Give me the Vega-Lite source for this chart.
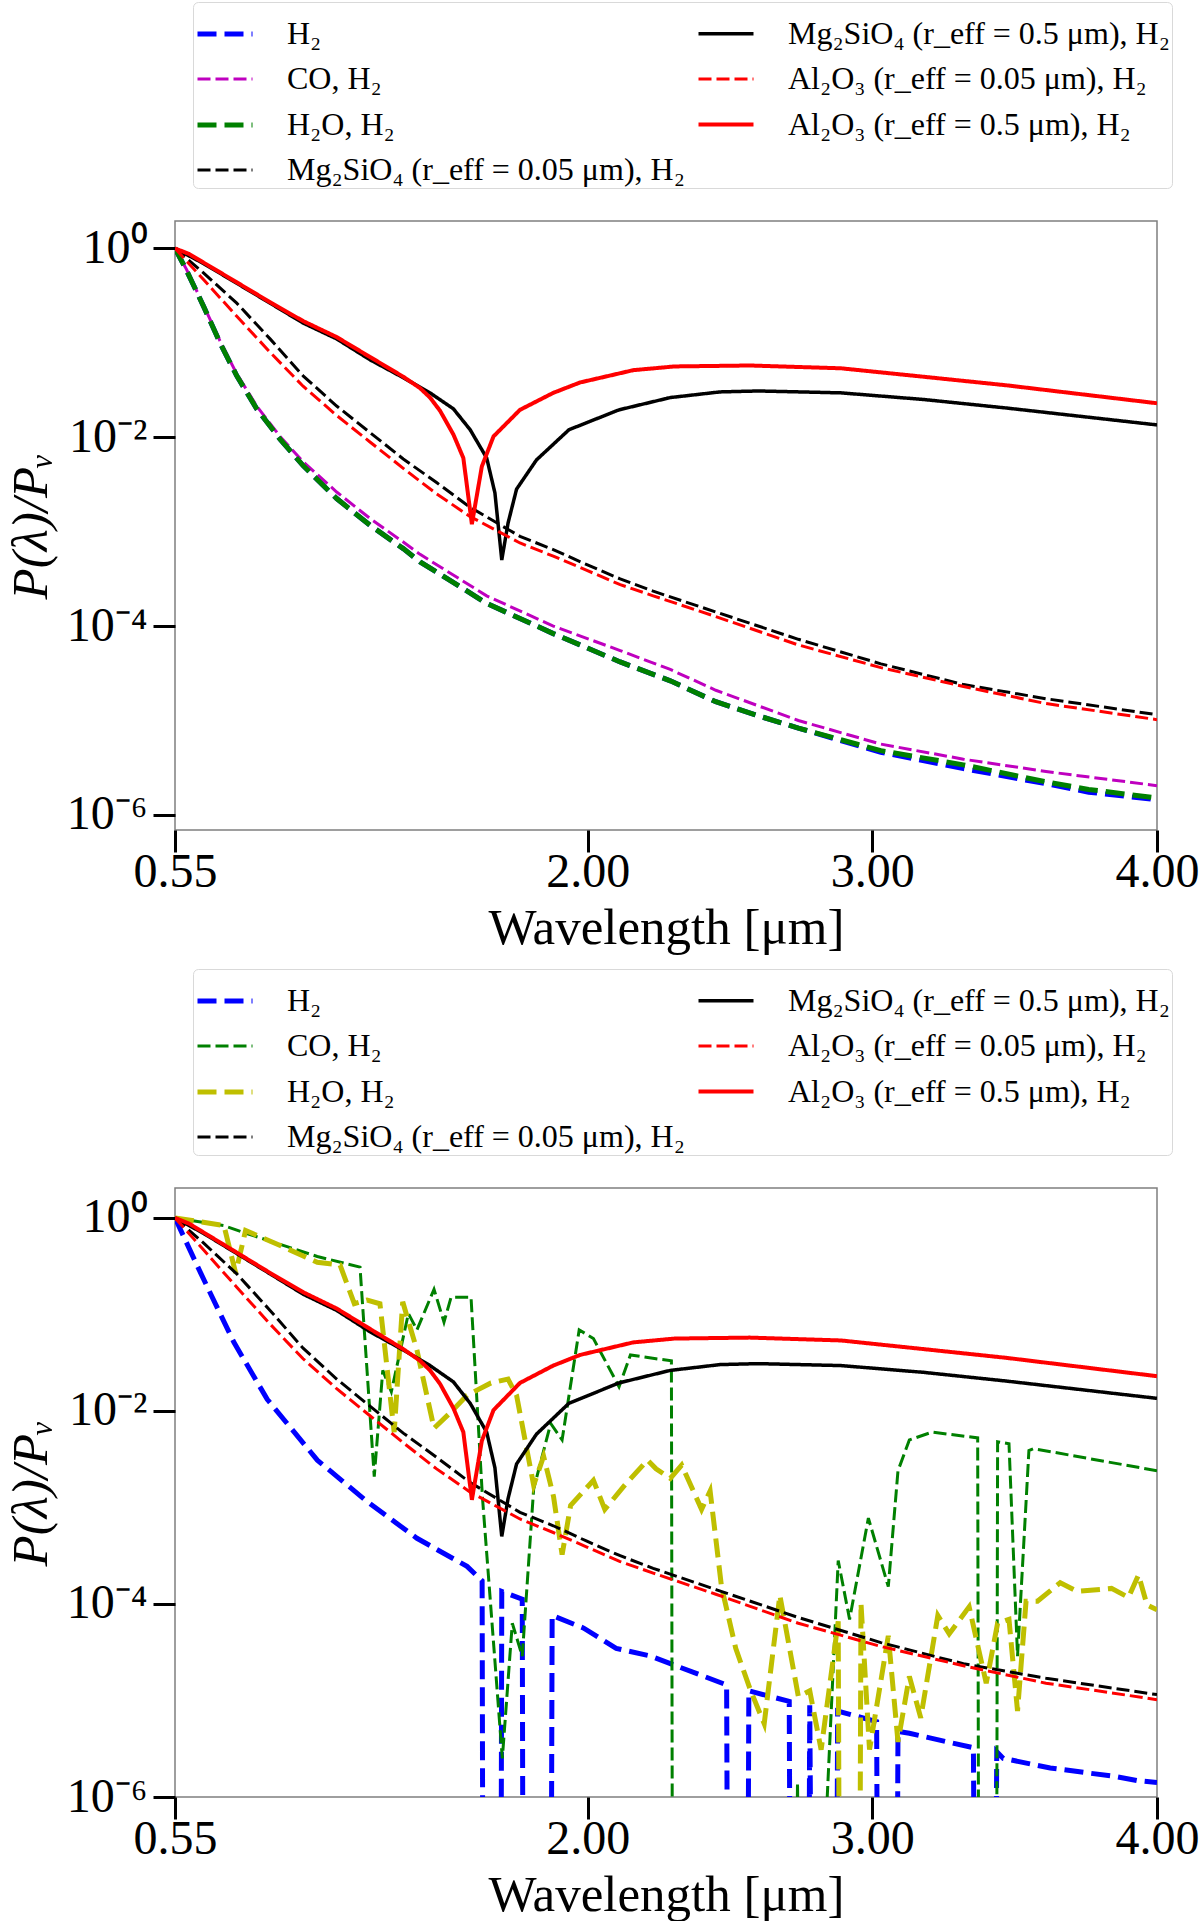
{
  "$schema": "https://vega.github.io/schema/vega-lite/v6.json",
  "background": "white",
  "padding": {"left": 4, "top": 0, "right": 0, "bottom": 0},
  "config": {
    "font": "Liberation Serif",
    "view": {"stroke": "#7f7f7f", "strokeWidth": 1.5},
    "concat": {"spacing": 13},
    "axis": {
      "labelFont": "Liberation Serif",
      "titleFont": "Liberation Serif",
      "labelFontSize": 48,
      "titleFontSize": 51,
      "titleFontWeight": "normal",
      "labelColor": "black",
      "titleColor": "black",
      "tickColor": "black",
      "tickSize": 22,
      "tickWidth": 3,
      "domain": false,
      "grid": false,
      "labelFlush": false,
      "labelOverlap": false
    },
    "legend": {
      "orient": "none",
      "legendX": 18,
      "legendY": -219,
      "columns": 2,
      "symbolType": "stroke",
      "symbolSize": 3025,
      "labelFont": "Liberation Serif",
      "labelFontSize": 32,
      "labelColor": "black",
      "labelOffset": 32,
      "labelLimit": 0,
      "rowPadding": -7,
      "columnPadding": 5,
      "padding": 2,
      "fillColor": "white",
      "strokeColor": "#d9d9d9",
      "cornerRadius": 5
    }
  },
  "datasets": {
    "top": [
      {"s": "H2", "x": 0.55, "p": 1},
      {"s": "H2", "x": 0.59, "p": 0.589},
      {"s": "H2", "x": 0.65, "p": 0.245},
      {"s": "H2", "x": 0.708, "p": 0.1},
      {"s": "H2", "x": 0.767, "p": 0.0447},
      {"s": "H2", "x": 0.837, "p": 0.02},
      {"s": "H2", "x": 0.919, "p": 0.00955},
      {"s": "H2", "x": 1.0, "p": 0.00501},
      {"s": "H2", "x": 1.118, "p": 0.00224},
      {"s": "H2", "x": 1.235, "p": 0.00117},
      {"s": "H2", "x": 1.352, "p": 0.000661},
      {"s": "H2", "x": 1.411, "p": 0.000479},
      {"s": "H2", "x": 1.645, "p": 0.000174},
      {"s": "H2", "x": 1.879, "p": 0.0000832},
      {"s": "H2", "x": 2.114, "p": 0.0000417},
      {"s": "H2", "x": 2.29, "p": 0.0000263},
      {"s": "H2", "x": 2.45, "p": 0.0000158},
      {"s": "H2", "x": 2.6, "p": 0.0000112},
      {"s": "H2", "x": 2.74, "p": 0.0000083},
      {"s": "H2", "x": 3.03, "p": 0.0000046},
      {"s": "H2", "x": 3.32, "p": 0.00000309},
      {"s": "H2", "x": 3.61, "p": 0.00000214},
      {"s": "H2", "x": 3.76, "p": 0.00000174},
      {"s": "H2", "x": 4.0, "p": 0.00000145},
      {"s": "CO", "x": 0.55, "p": 1},
      {"s": "CO", "x": 0.59, "p": 0.603},
      {"s": "CO", "x": 0.65, "p": 0.251},
      {"s": "CO", "x": 0.708, "p": 0.105},
      {"s": "CO", "x": 0.767, "p": 0.0468},
      {"s": "CO", "x": 0.837, "p": 0.0214},
      {"s": "CO", "x": 0.919, "p": 0.0102},
      {"s": "CO", "x": 1.0, "p": 0.0055},
      {"s": "CO", "x": 1.118, "p": 0.00263},
      {"s": "CO", "x": 1.235, "p": 0.00138},
      {"s": "CO", "x": 1.352, "p": 0.000776},
      {"s": "CO", "x": 1.411, "p": 0.000575},
      {"s": "CO", "x": 1.645, "p": 0.000209},
      {"s": "CO", "x": 1.879, "p": 0.0001},
      {"s": "CO", "x": 2.114, "p": 0.000055},
      {"s": "CO", "x": 2.29, "p": 0.0000347},
      {"s": "CO", "x": 2.45, "p": 0.0000209},
      {"s": "CO", "x": 2.74, "p": 0.00001},
      {"s": "CO", "x": 3.03, "p": 0.00000562},
      {"s": "CO", "x": 3.32, "p": 0.00000389},
      {"s": "CO", "x": 3.61, "p": 0.00000288},
      {"s": "CO", "x": 4.0, "p": 0.00000204},
      {"s": "H2O", "x": 0.55, "p": 1},
      {"s": "H2O", "x": 0.59, "p": 0.589},
      {"s": "H2O", "x": 0.65, "p": 0.245},
      {"s": "H2O", "x": 0.708, "p": 0.1},
      {"s": "H2O", "x": 0.767, "p": 0.0447},
      {"s": "H2O", "x": 0.837, "p": 0.02},
      {"s": "H2O", "x": 0.919, "p": 0.00955},
      {"s": "H2O", "x": 1.0, "p": 0.00501},
      {"s": "H2O", "x": 1.118, "p": 0.00224},
      {"s": "H2O", "x": 1.235, "p": 0.00117},
      {"s": "H2O", "x": 1.352, "p": 0.000661},
      {"s": "H2O", "x": 1.411, "p": 0.000479},
      {"s": "H2O", "x": 1.645, "p": 0.000174},
      {"s": "H2O", "x": 1.879, "p": 0.0000832},
      {"s": "H2O", "x": 2.114, "p": 0.0000417},
      {"s": "H2O", "x": 2.29, "p": 0.0000263},
      {"s": "H2O", "x": 2.45, "p": 0.0000158},
      {"s": "H2O", "x": 2.6, "p": 0.0000112},
      {"s": "H2O", "x": 2.74, "p": 0.0000083},
      {"s": "H2O", "x": 3.03, "p": 0.00000479},
      {"s": "H2O", "x": 3.32, "p": 0.00000339},
      {"s": "H2O", "x": 3.61, "p": 0.00000224},
      {"s": "H2O", "x": 3.76, "p": 0.00000186},
      {"s": "H2O", "x": 4.0, "p": 0.00000151},
      {"s": "Mg005", "x": 0.55, "p": 1},
      {"s": "Mg005", "x": 0.65, "p": 0.55},
      {"s": "Mg005", "x": 0.767, "p": 0.263},
      {"s": "Mg005", "x": 0.884, "p": 0.11},
      {"s": "Mg005", "x": 1.0, "p": 0.0447},
      {"s": "Mg005", "x": 1.118, "p": 0.0214},
      {"s": "Mg005", "x": 1.235, "p": 0.0112},
      {"s": "Mg005", "x": 1.352, "p": 0.00589},
      {"s": "Mg005", "x": 1.469, "p": 0.00331},
      {"s": "Mg005", "x": 1.586, "p": 0.00182},
      {"s": "Mg005", "x": 1.762, "p": 0.000891},
      {"s": "Mg005", "x": 1.879, "p": 0.000646},
      {"s": "Mg005", "x": 1.997, "p": 0.000447},
      {"s": "Mg005", "x": 2.114, "p": 0.000316},
      {"s": "Mg005", "x": 2.23, "p": 0.000234},
      {"s": "Mg005", "x": 2.45, "p": 0.000141},
      {"s": "Mg005", "x": 2.74, "p": 0.0000724},
      {"s": "Mg005", "x": 3.03, "p": 0.0000398},
      {"s": "Mg005", "x": 3.32, "p": 0.000024},
      {"s": "Mg005", "x": 3.61, "p": 0.000017},
      {"s": "Mg005", "x": 4.0, "p": 0.0000115},
      {"s": "Mg05", "x": 0.55, "p": 1},
      {"s": "Mg05", "x": 0.65, "p": 0.692},
      {"s": "Mg05", "x": 0.767, "p": 0.427},
      {"s": "Mg05", "x": 0.884, "p": 0.263},
      {"s": "Mg05", "x": 1.0, "p": 0.162},
      {"s": "Mg05", "x": 1.118, "p": 0.11},
      {"s": "Mg05", "x": 1.235, "p": 0.0661},
      {"s": "Mg05", "x": 1.352, "p": 0.0427},
      {"s": "Mg05", "x": 1.446, "p": 0.0295},
      {"s": "Mg05", "x": 1.528, "p": 0.02},
      {"s": "Mg05", "x": 1.587, "p": 0.012},
      {"s": "Mg05", "x": 1.645, "p": 0.00603},
      {"s": "Mg05", "x": 1.674, "p": 0.00257},
      {"s": "Mg05", "x": 1.698, "p": 0.000501},
      {"s": "Mg05", "x": 1.72, "p": 0.00123},
      {"s": "Mg05", "x": 1.75, "p": 0.00282},
      {"s": "Mg05", "x": 1.82, "p": 0.00575},
      {"s": "Mg05", "x": 1.934, "p": 0.012},
      {"s": "Mg05", "x": 2.11, "p": 0.0195},
      {"s": "Mg05", "x": 2.29, "p": 0.0263},
      {"s": "Mg05", "x": 2.465, "p": 0.0302},
      {"s": "Mg05", "x": 2.6, "p": 0.0309},
      {"s": "Mg05", "x": 2.89, "p": 0.0295},
      {"s": "Mg05", "x": 3.18, "p": 0.0251},
      {"s": "Mg05", "x": 3.47, "p": 0.0204},
      {"s": "Mg05", "x": 4.0, "p": 0.0135},
      {"s": "Al005", "x": 0.55, "p": 1},
      {"s": "Al005", "x": 0.65, "p": 0.468},
      {"s": "Al005", "x": 0.767, "p": 0.191},
      {"s": "Al005", "x": 0.884, "p": 0.0794},
      {"s": "Al005", "x": 1.0, "p": 0.0347},
      {"s": "Al005", "x": 1.118, "p": 0.017},
      {"s": "Al005", "x": 1.235, "p": 0.00891},
      {"s": "Al005", "x": 1.352, "p": 0.00468},
      {"s": "Al005", "x": 1.469, "p": 0.00251},
      {"s": "Al005", "x": 1.586, "p": 0.00145},
      {"s": "Al005", "x": 1.762, "p": 0.000759},
      {"s": "Al005", "x": 1.879, "p": 0.00055},
      {"s": "Al005", "x": 1.997, "p": 0.000389},
      {"s": "Al005", "x": 2.114, "p": 0.000275},
      {"s": "Al005", "x": 2.23, "p": 0.000209},
      {"s": "Al005", "x": 2.45, "p": 0.000126},
      {"s": "Al005", "x": 2.74, "p": 0.0000631},
      {"s": "Al005", "x": 3.03, "p": 0.0000363},
      {"s": "Al005", "x": 3.32, "p": 0.0000229},
      {"s": "Al005", "x": 3.61, "p": 0.0000151},
      {"s": "Al005", "x": 4.0, "p": 0.0000102},
      {"s": "Al05", "x": 0.55, "p": 1},
      {"s": "Al05", "x": 0.6, "p": 0.871},
      {"s": "Al05", "x": 0.65, "p": 0.708},
      {"s": "Al05", "x": 0.767, "p": 0.437},
      {"s": "Al05", "x": 0.884, "p": 0.269},
      {"s": "Al05", "x": 1.0, "p": 0.17},
      {"s": "Al05", "x": 1.118, "p": 0.115},
      {"s": "Al05", "x": 1.235, "p": 0.0708},
      {"s": "Al05", "x": 1.352, "p": 0.0437},
      {"s": "Al05", "x": 1.411, "p": 0.0331},
      {"s": "Al05", "x": 1.446, "p": 0.0263},
      {"s": "Al05", "x": 1.481, "p": 0.0191},
      {"s": "Al05", "x": 1.528, "p": 0.0107},
      {"s": "Al05", "x": 1.563, "p": 0.00603},
      {"s": "Al05", "x": 1.593, "p": 0.0012},
      {"s": "Al05", "x": 1.628, "p": 0.0049},
      {"s": "Al05", "x": 1.669, "p": 0.0102},
      {"s": "Al05", "x": 1.762, "p": 0.0195},
      {"s": "Al05", "x": 1.879, "p": 0.0295},
      {"s": "Al05", "x": 1.973, "p": 0.038},
      {"s": "Al05", "x": 2.16, "p": 0.0513},
      {"s": "Al05", "x": 2.305, "p": 0.0562},
      {"s": "Al05", "x": 2.57, "p": 0.0575},
      {"s": "Al05", "x": 2.89, "p": 0.0537},
      {"s": "Al05", "x": 3.18, "p": 0.0437},
      {"s": "Al05", "x": 3.47, "p": 0.0355},
      {"s": "Al05", "x": 4.0, "p": 0.0229}
    ],
    "bottom": [
      {"s": "H2", "x": 0.55, "p": 1},
      {"s": "H2", "x": 0.64, "p": 0.269},
      {"s": "H2", "x": 0.757, "p": 0.0513},
      {"s": "H2", "x": 0.874, "p": 0.0132},
      {"s": "H2", "x": 1.05, "p": 0.00309},
      {"s": "H2", "x": 1.225, "p": 0.00115},
      {"s": "H2", "x": 1.4, "p": 0.000479},
      {"s": "H2", "x": 1.576, "p": 0.000245},
      {"s": "H2", "x": 1.629, "p": 0.000174},
      {"s": "H2", "x": 1.632, "p": 0.00000001},
      {"s": "H2", "x": 1.695, "p": 0.00000001},
      {"s": "H2", "x": 1.698, "p": 0.000135},
      {"s": "H2", "x": 1.77, "p": 0.000112},
      {"s": "H2", "x": 1.773, "p": 0.00000001},
      {"s": "H2", "x": 1.871, "p": 0.00000001},
      {"s": "H2", "x": 1.875, "p": 0.0000759},
      {"s": "H2", "x": 1.986, "p": 0.0000562},
      {"s": "H2", "x": 2.1, "p": 0.0000347},
      {"s": "H2", "x": 2.218, "p": 0.000029},
      {"s": "H2", "x": 2.488, "p": 0.0000145},
      {"s": "H2", "x": 2.492, "p": 0.00000001},
      {"s": "H2", "x": 2.562, "p": 0.00000001},
      {"s": "H2", "x": 2.566, "p": 0.0000126},
      {"s": "H2", "x": 2.708, "p": 0.00000977},
      {"s": "H2", "x": 2.712, "p": 0.00000001},
      {"s": "H2", "x": 2.776, "p": 0.00000001},
      {"s": "H2", "x": 2.78, "p": 0.00000891},
      {"s": "H2", "x": 2.787, "p": 0.00000001},
      {"s": "H2", "x": 2.874, "p": 0.00000001},
      {"s": "H2", "x": 2.878, "p": 0.00000776},
      {"s": "H2", "x": 3.015, "p": 0.00000603},
      {"s": "H2", "x": 3.019, "p": 0.00000001},
      {"s": "H2", "x": 3.086, "p": 0.00000001},
      {"s": "H2", "x": 3.09, "p": 0.00000479},
      {"s": "H2", "x": 3.13, "p": 0.00000457},
      {"s": "H2", "x": 3.355, "p": 0.00000324},
      {"s": "H2", "x": 3.36, "p": 0.00000001},
      {"s": "H2", "x": 3.432, "p": 0.00000001},
      {"s": "H2", "x": 3.437, "p": 0.00000295},
      {"s": "H2", "x": 3.46, "p": 0.00000251},
      {"s": "H2", "x": 3.625, "p": 0.000002},
      {"s": "H2", "x": 3.86, "p": 0.00000162},
      {"s": "H2", "x": 3.93, "p": 0.00000148},
      {"s": "H2", "x": 4.0, "p": 0.00000141},
      {"s": "CO", "x": 0.55, "p": 1},
      {"s": "CO", "x": 0.722, "p": 0.832},
      {"s": "CO", "x": 0.79, "p": 0.708},
      {"s": "CO", "x": 1.05, "p": 0.398},
      {"s": "CO", "x": 1.2, "p": 0.309},
      {"s": "CO", "x": 1.25, "p": 0.00209},
      {"s": "CO", "x": 1.28, "p": 0.0263},
      {"s": "CO", "x": 1.31, "p": 0.0158},
      {"s": "CO", "x": 1.37, "p": 0.102},
      {"s": "CO", "x": 1.4, "p": 0.0692},
      {"s": "CO", "x": 1.46, "p": 0.182},
      {"s": "CO", "x": 1.495, "p": 0.0832},
      {"s": "CO", "x": 1.52, "p": 0.151},
      {"s": "CO", "x": 1.59, "p": 0.151},
      {"s": "CO", "x": 1.63, "p": 0.00129},
      {"s": "CO", "x": 1.7, "p": 0.00000251},
      {"s": "CO", "x": 1.735, "p": 0.0000631},
      {"s": "CO", "x": 1.77, "p": 0.0000288},
      {"s": "CO", "x": 1.81, "p": 0.00155},
      {"s": "CO", "x": 1.87, "p": 0.00741},
      {"s": "CO", "x": 1.91, "p": 0.00501},
      {"s": "CO", "x": 1.97, "p": 0.0692},
      {"s": "CO", "x": 2.02, "p": 0.0562},
      {"s": "CO", "x": 2.11, "p": 0.0178},
      {"s": "CO", "x": 2.15, "p": 0.038},
      {"s": "CO", "x": 2.24, "p": 0.0347},
      {"s": "CO", "x": 2.294, "p": 0.0331},
      {"s": "CO", "x": 2.298, "p": 0.00000001},
      {"s": "CO", "x": 2.73, "p": 0.00000001},
      {"s": "CO", "x": 2.737, "p": 0.00000141},
      {"s": "CO", "x": 2.745, "p": 0.00000001},
      {"s": "CO", "x": 2.81, "p": 0.00000001},
      {"s": "CO", "x": 2.88, "p": 0.000282},
      {"s": "CO", "x": 2.92, "p": 0.0000692},
      {"s": "CO", "x": 2.986, "p": 0.000776},
      {"s": "CO", "x": 3.056, "p": 0.000151},
      {"s": "CO", "x": 3.09, "p": 0.0024},
      {"s": "CO", "x": 3.13, "p": 0.00501},
      {"s": "CO", "x": 3.21, "p": 0.00603},
      {"s": "CO", "x": 3.37, "p": 0.00525},
      {"s": "CO", "x": 3.374, "p": 0.00000001},
      {"s": "CO", "x": 3.436, "p": 0.00000001},
      {"s": "CO", "x": 3.44, "p": 0.00479},
      {"s": "CO", "x": 3.48, "p": 0.00457},
      {"s": "CO", "x": 3.51, "p": 0.0000288},
      {"s": "CO", "x": 3.55, "p": 0.00389},
      {"s": "CO", "x": 3.566, "p": 0.00407},
      {"s": "CO", "x": 4.0, "p": 0.0024},
      {"s": "H2O", "x": 0.55, "p": 1},
      {"s": "H2O", "x": 0.722, "p": 0.832},
      {"s": "H2O", "x": 0.763, "p": 0.269},
      {"s": "H2O", "x": 0.798, "p": 0.741},
      {"s": "H2O", "x": 0.93, "p": 0.501},
      {"s": "H2O", "x": 1.05, "p": 0.347},
      {"s": "H2O", "x": 1.13, "p": 0.324},
      {"s": "H2O", "x": 1.18, "p": 0.129},
      {"s": "H2O", "x": 1.225, "p": 0.141},
      {"s": "H2O", "x": 1.27, "p": 0.129},
      {"s": "H2O", "x": 1.32, "p": 0.00603},
      {"s": "H2O", "x": 1.35, "p": 0.135},
      {"s": "H2O", "x": 1.4, "p": 0.0427},
      {"s": "H2O", "x": 1.46, "p": 0.00661},
      {"s": "H2O", "x": 1.52, "p": 0.00977},
      {"s": "H2O", "x": 1.576, "p": 0.0145},
      {"s": "H2O", "x": 1.66, "p": 0.0195},
      {"s": "H2O", "x": 1.72, "p": 0.0214},
      {"s": "H2O", "x": 1.75, "p": 0.0145},
      {"s": "H2O", "x": 1.81, "p": 0.0017},
      {"s": "H2O", "x": 1.845, "p": 0.00339},
      {"s": "H2O", "x": 1.88, "p": 0.00129},
      {"s": "H2O", "x": 1.91, "p": 0.000324},
      {"s": "H2O", "x": 1.94, "p": 0.00105},
      {"s": "H2O", "x": 2.02, "p": 0.00191},
      {"s": "H2O", "x": 2.06, "p": 0.000955},
      {"s": "H2O", "x": 2.13, "p": 0.0017},
      {"s": "H2O", "x": 2.21, "p": 0.00309},
      {"s": "H2O", "x": 2.24, "p": 0.00251},
      {"s": "H2O", "x": 2.29, "p": 0.002},
      {"s": "H2O", "x": 2.33, "p": 0.00275},
      {"s": "H2O", "x": 2.4, "p": 0.000955},
      {"s": "H2O", "x": 2.43, "p": 0.00148},
      {"s": "H2O", "x": 2.47, "p": 0.000151},
      {"s": "H2O", "x": 2.52, "p": 0.0000347},
      {"s": "H2O", "x": 2.57, "p": 0.0000132},
      {"s": "H2O", "x": 2.62, "p": 0.00000575},
      {"s": "H2O", "x": 2.675, "p": 0.000123},
      {"s": "H2O", "x": 2.74, "p": 0.000011},
      {"s": "H2O", "x": 2.78, "p": 0.0000126},
      {"s": "H2O", "x": 2.82, "p": 0.00000309},
      {"s": "H2O", "x": 2.88, "p": 0.0000661},
      {"s": "H2O", "x": 2.885, "p": 0.00000001},
      {"s": "H2O", "x": 2.955, "p": 0.00000001},
      {"s": "H2O", "x": 2.96, "p": 0.000102},
      {"s": "H2O", "x": 2.99, "p": 0.00000309},
      {"s": "H2O", "x": 3.056, "p": 0.0000468},
      {"s": "H2O", "x": 3.09, "p": 0.00000372},
      {"s": "H2O", "x": 3.13, "p": 0.0000178},
      {"s": "H2O", "x": 3.17, "p": 0.00000661},
      {"s": "H2O", "x": 3.23, "p": 0.0000759},
      {"s": "H2O", "x": 3.27, "p": 0.000049},
      {"s": "H2O", "x": 3.34, "p": 0.0000933},
      {"s": "H2O", "x": 3.4, "p": 0.0000151},
      {"s": "H2O", "x": 3.44, "p": 0.0000631},
      {"s": "H2O", "x": 3.48, "p": 0.0000692},
      {"s": "H2O", "x": 3.51, "p": 0.00000776},
      {"s": "H2O", "x": 3.54, "p": 0.000107},
      {"s": "H2O", "x": 3.58, "p": 0.000107},
      {"s": "H2O", "x": 3.66, "p": 0.000166},
      {"s": "H2O", "x": 3.72, "p": 0.000135},
      {"s": "H2O", "x": 3.84, "p": 0.000145},
      {"s": "H2O", "x": 3.9, "p": 0.000117},
      {"s": "H2O", "x": 3.935, "p": 0.0002},
      {"s": "H2O", "x": 3.965, "p": 0.0000977},
      {"s": "H2O", "x": 4.0, "p": 0.0000871},
      {"s": "Mg005", "x": 0.55, "p": 1},
      {"s": "Mg005", "x": 0.65, "p": 0.55},
      {"s": "Mg005", "x": 0.767, "p": 0.263},
      {"s": "Mg005", "x": 0.884, "p": 0.11},
      {"s": "Mg005", "x": 1.0, "p": 0.0447},
      {"s": "Mg005", "x": 1.118, "p": 0.0214},
      {"s": "Mg005", "x": 1.235, "p": 0.0112},
      {"s": "Mg005", "x": 1.352, "p": 0.00589},
      {"s": "Mg005", "x": 1.469, "p": 0.00331},
      {"s": "Mg005", "x": 1.586, "p": 0.00182},
      {"s": "Mg005", "x": 1.762, "p": 0.000891},
      {"s": "Mg005", "x": 1.879, "p": 0.000646},
      {"s": "Mg005", "x": 1.997, "p": 0.000447},
      {"s": "Mg005", "x": 2.114, "p": 0.000316},
      {"s": "Mg005", "x": 2.23, "p": 0.000234},
      {"s": "Mg005", "x": 2.45, "p": 0.000141},
      {"s": "Mg005", "x": 2.74, "p": 0.0000724},
      {"s": "Mg005", "x": 3.03, "p": 0.0000398},
      {"s": "Mg005", "x": 3.32, "p": 0.000024},
      {"s": "Mg005", "x": 3.61, "p": 0.000017},
      {"s": "Mg005", "x": 4.0, "p": 0.0000115},
      {"s": "Mg05", "x": 0.55, "p": 1},
      {"s": "Mg05", "x": 0.65, "p": 0.692},
      {"s": "Mg05", "x": 0.767, "p": 0.427},
      {"s": "Mg05", "x": 0.884, "p": 0.263},
      {"s": "Mg05", "x": 1.0, "p": 0.162},
      {"s": "Mg05", "x": 1.118, "p": 0.11},
      {"s": "Mg05", "x": 1.235, "p": 0.0661},
      {"s": "Mg05", "x": 1.352, "p": 0.0427},
      {"s": "Mg05", "x": 1.446, "p": 0.0295},
      {"s": "Mg05", "x": 1.528, "p": 0.02},
      {"s": "Mg05", "x": 1.587, "p": 0.012},
      {"s": "Mg05", "x": 1.645, "p": 0.00603},
      {"s": "Mg05", "x": 1.674, "p": 0.00257},
      {"s": "Mg05", "x": 1.698, "p": 0.000501},
      {"s": "Mg05", "x": 1.72, "p": 0.00123},
      {"s": "Mg05", "x": 1.75, "p": 0.00282},
      {"s": "Mg05", "x": 1.82, "p": 0.00575},
      {"s": "Mg05", "x": 1.934, "p": 0.012},
      {"s": "Mg05", "x": 2.11, "p": 0.0195},
      {"s": "Mg05", "x": 2.29, "p": 0.0263},
      {"s": "Mg05", "x": 2.465, "p": 0.0302},
      {"s": "Mg05", "x": 2.6, "p": 0.0309},
      {"s": "Mg05", "x": 2.89, "p": 0.0295},
      {"s": "Mg05", "x": 3.18, "p": 0.0251},
      {"s": "Mg05", "x": 3.47, "p": 0.0204},
      {"s": "Mg05", "x": 4.0, "p": 0.0135},
      {"s": "Al005", "x": 0.55, "p": 1},
      {"s": "Al005", "x": 0.65, "p": 0.468},
      {"s": "Al005", "x": 0.767, "p": 0.191},
      {"s": "Al005", "x": 0.884, "p": 0.0794},
      {"s": "Al005", "x": 1.0, "p": 0.0347},
      {"s": "Al005", "x": 1.118, "p": 0.017},
      {"s": "Al005", "x": 1.235, "p": 0.00891},
      {"s": "Al005", "x": 1.352, "p": 0.00468},
      {"s": "Al005", "x": 1.469, "p": 0.00251},
      {"s": "Al005", "x": 1.586, "p": 0.00145},
      {"s": "Al005", "x": 1.762, "p": 0.000759},
      {"s": "Al005", "x": 1.879, "p": 0.00055},
      {"s": "Al005", "x": 1.997, "p": 0.000389},
      {"s": "Al005", "x": 2.114, "p": 0.000275},
      {"s": "Al005", "x": 2.23, "p": 0.000209},
      {"s": "Al005", "x": 2.45, "p": 0.000126},
      {"s": "Al005", "x": 2.74, "p": 0.0000631},
      {"s": "Al005", "x": 3.03, "p": 0.0000363},
      {"s": "Al005", "x": 3.32, "p": 0.0000229},
      {"s": "Al005", "x": 3.61, "p": 0.0000151},
      {"s": "Al005", "x": 4.0, "p": 0.0000102},
      {"s": "Al05", "x": 0.55, "p": 1},
      {"s": "Al05", "x": 0.6, "p": 0.871},
      {"s": "Al05", "x": 0.65, "p": 0.708},
      {"s": "Al05", "x": 0.767, "p": 0.437},
      {"s": "Al05", "x": 0.884, "p": 0.269},
      {"s": "Al05", "x": 1.0, "p": 0.17},
      {"s": "Al05", "x": 1.118, "p": 0.115},
      {"s": "Al05", "x": 1.235, "p": 0.0708},
      {"s": "Al05", "x": 1.352, "p": 0.0437},
      {"s": "Al05", "x": 1.411, "p": 0.0331},
      {"s": "Al05", "x": 1.446, "p": 0.0263},
      {"s": "Al05", "x": 1.481, "p": 0.0191},
      {"s": "Al05", "x": 1.528, "p": 0.0107},
      {"s": "Al05", "x": 1.563, "p": 0.00603},
      {"s": "Al05", "x": 1.593, "p": 0.0012},
      {"s": "Al05", "x": 1.628, "p": 0.0049},
      {"s": "Al05", "x": 1.669, "p": 0.0102},
      {"s": "Al05", "x": 1.762, "p": 0.0195},
      {"s": "Al05", "x": 1.879, "p": 0.0295},
      {"s": "Al05", "x": 1.973, "p": 0.038},
      {"s": "Al05", "x": 2.16, "p": 0.0513},
      {"s": "Al05", "x": 2.305, "p": 0.0562},
      {"s": "Al05", "x": 2.57, "p": 0.0575},
      {"s": "Al05", "x": 2.89, "p": 0.0537},
      {"s": "Al05", "x": 3.18, "p": 0.0437},
      {"s": "Al05", "x": 3.47, "p": 0.0355},
      {"s": "Al05", "x": 4.0, "p": 0.0229}
    ]
  },
  "vconcat": [
    {
      "width": 982,
      "height": 609,
      "data": {"name": "top"},
      "mark": {"type": "line", "clip": true},
      "encoding": {
        "x": {
          "field": "x",
          "type": "quantitative",
          "scale": {"domain": [0.55, 4.0], "nice": false, "zero": false},
          "axis": {"values": [0.55, 2, 3, 4], "format": ".2f", "title": "Wavelength [μm]", "labelPadding": -4, "titlePadding": 7}
        },
        "y": {
          "field": "p",
          "type": "quantitative",
          "scale": {"type": "log", "domain": [6.92e-7, 1.95], "nice": false},
          "axis": {
            "values": [1, 0.01, 0.0001, 0.000001],
            "labelExpr": "datum.value > 0.5 ? '10⁰' : datum.value > 0.005 ? '10⁻²' : datum.value > 0.00005 ? '10⁻⁴' : '10⁻⁶'",
            "title": "P(λ)/Pᵥ",
            "titleFontStyle": "italic",
            "labelPadding": 6,
            "titlePadding": 9
          }
        },
        "color": {
          "field": "s",
          "type": "nominal",
          "scale": {
            "domain": ["H2", "CO", "H2O", "Mg005", "Mg05", "Al005", "Al05"],
            "range": ["#0000ff", "#bf00bf", "#008000", "#000000", "#000000", "#ff0000", "#ff0000"]
          },
          "legend": {"title": null, "labelExpr": "{'H2': 'H₂', 'CO': 'CO, H₂', 'H2O': 'H₂O,  H₂', 'Mg005': 'Mg₂SiO₄ (r_eff = 0.05 μm), H₂', 'Mg05': 'Mg₂SiO₄ (r_eff = 0.5 μm), H₂', 'Al005': 'Al₂O₃ (r_eff = 0.05 μm), H₂', 'Al05': 'Al₂O₃ (r_eff = 0.5 μm), H₂'}[datum.label]"}
        },
        "strokeDash": {
          "field": "s",
          "type": "nominal",
          "scale": {
            "domain": ["H2", "CO", "H2O", "Mg005", "Mg05", "Al005", "Al05"],
            "range": [[19, 8], [13, 5], [19, 8], [13, 5], [1, 0], [13, 5], [1, 0]]
          },
          "legend": {"title": null, "labelExpr": "{'H2': 'H₂', 'CO': 'CO, H₂', 'H2O': 'H₂O,  H₂', 'Mg005': 'Mg₂SiO₄ (r_eff = 0.05 μm), H₂', 'Mg05': 'Mg₂SiO₄ (r_eff = 0.5 μm), H₂', 'Al005': 'Al₂O₃ (r_eff = 0.05 μm), H₂', 'Al05': 'Al₂O₃ (r_eff = 0.5 μm), H₂'}[datum.label]"}
        },
        "strokeWidth": {
          "field": "s",
          "type": "nominal",
          "scale": {
            "type": "ordinal",
            "domain": ["H2", "CO", "H2O", "Mg005", "Mg05", "Al005", "Al05"],
            "range": [5, 3, 5, 3, 3.5, 3, 4]
          },
          "legend": {"title": null, "labelExpr": "{'H2': 'H₂', 'CO': 'CO, H₂', 'H2O': 'H₂O,  H₂', 'Mg005': 'Mg₂SiO₄ (r_eff = 0.05 μm), H₂', 'Mg05': 'Mg₂SiO₄ (r_eff = 0.5 μm), H₂', 'Al005': 'Al₂O₃ (r_eff = 0.05 μm), H₂', 'Al05': 'Al₂O₃ (r_eff = 0.5 μm), H₂'}[datum.label]"}
        }
      }
    },
    {
      "width": 982,
      "height": 609,
      "data": {"name": "bottom"},
      "mark": {"type": "line", "clip": true},
      "encoding": {
        "x": {
          "field": "x",
          "type": "quantitative",
          "scale": {"domain": [0.55, 4.0], "nice": false, "zero": false},
          "axis": {"values": [0.55, 2, 3, 4], "format": ".2f", "title": "Wavelength [μm]", "labelPadding": -4, "titlePadding": 7}
        },
        "y": {
          "field": "p",
          "type": "quantitative",
          "scale": {"type": "log", "domain": [1e-6, 2.04], "nice": false},
          "axis": {
            "values": [1, 0.01, 0.0001, 0.000001],
            "labelExpr": "datum.value > 0.5 ? '10⁰' : datum.value > 0.005 ? '10⁻²' : datum.value > 0.00005 ? '10⁻⁴' : '10⁻⁶'",
            "title": "P(λ)/Pᵥ",
            "titleFontStyle": "italic",
            "labelPadding": 6,
            "titlePadding": 9
          }
        },
        "color": {
          "field": "s",
          "type": "nominal",
          "scale": {
            "domain": ["H2", "CO", "H2O", "Mg005", "Mg05", "Al005", "Al05"],
            "range": ["#0000ff", "#008000", "#bfbf00", "#000000", "#000000", "#ff0000", "#ff0000"]
          },
          "legend": {"title": null, "labelExpr": "{'H2': 'H₂', 'CO': 'CO, H₂', 'H2O': 'H₂O,  H₂', 'Mg005': 'Mg₂SiO₄ (r_eff = 0.05 μm), H₂', 'Mg05': 'Mg₂SiO₄ (r_eff = 0.5 μm), H₂', 'Al005': 'Al₂O₃ (r_eff = 0.05 μm), H₂', 'Al05': 'Al₂O₃ (r_eff = 0.5 μm), H₂'}[datum.label]"}
        },
        "strokeDash": {
          "field": "s",
          "type": "nominal",
          "scale": {
            "domain": ["H2", "CO", "H2O", "Mg005", "Mg05", "Al005", "Al05"],
            "range": [[19, 8], [13, 5], [19, 8], [13, 5], [1, 0], [13, 5], [1, 0]]
          },
          "legend": {"title": null, "labelExpr": "{'H2': 'H₂', 'CO': 'CO, H₂', 'H2O': 'H₂O,  H₂', 'Mg005': 'Mg₂SiO₄ (r_eff = 0.05 μm), H₂', 'Mg05': 'Mg₂SiO₄ (r_eff = 0.5 μm), H₂', 'Al005': 'Al₂O₃ (r_eff = 0.05 μm), H₂', 'Al05': 'Al₂O₃ (r_eff = 0.5 μm), H₂'}[datum.label]"}
        },
        "strokeWidth": {
          "field": "s",
          "type": "nominal",
          "scale": {
            "type": "ordinal",
            "domain": ["H2", "CO", "H2O", "Mg005", "Mg05", "Al005", "Al05"],
            "range": [5, 3, 5, 3, 3.5, 3, 4]
          },
          "legend": {"title": null, "labelExpr": "{'H2': 'H₂', 'CO': 'CO, H₂', 'H2O': 'H₂O,  H₂', 'Mg005': 'Mg₂SiO₄ (r_eff = 0.05 μm), H₂', 'Mg05': 'Mg₂SiO₄ (r_eff = 0.5 μm), H₂', 'Al005': 'Al₂O₃ (r_eff = 0.05 μm), H₂', 'Al05': 'Al₂O₃ (r_eff = 0.5 μm), H₂'}[datum.label]"}
        }
      }
    }
  ],
  "resolve": {"scale": {"color": "independent", "strokeDash": "independent", "strokeWidth": "independent", "y": "independent"}, "legend": {"color": "independent", "strokeDash": "independent", "strokeWidth": "independent"}}
}
